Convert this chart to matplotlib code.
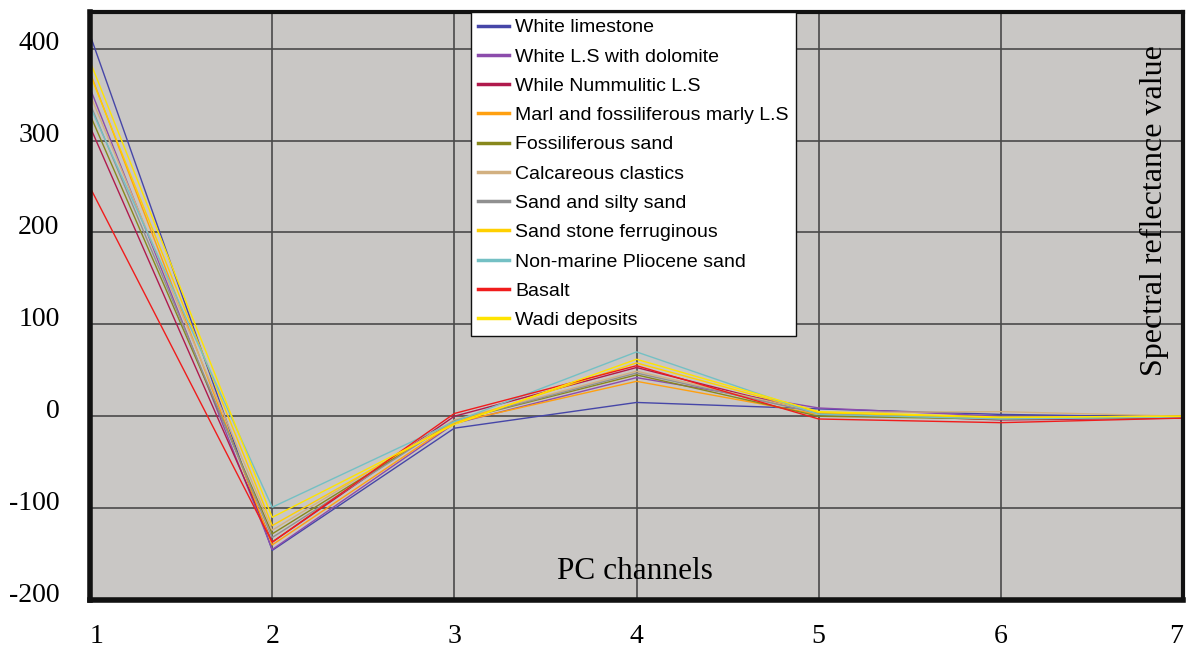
import matplotlib.pyplot as plt
import matplotlib.transforms as mtransforms

plt.rcParams["axes.unicode_minus"] = False

channels = [1, 2, 3, 4, 5, 6, 7]

names = ["White limestone", "White L.S with dolomite", "While Nummulitic L.S",
         "Marl and fossiliferous marly L.S", "Fossiliferous sand", "Calcareous clastics",
         "Sand and silty sand", "Sand stone ferruginous", "Non-marine Pliocene sand",
         "Basalt", "Wadi deposits"]

white_limestone = [415, -146, -13, 15, 8, 2, -1]
white_ls_dolomite = [357, -145, -8, 42, 9, 0, -1]
nummulitic_ls = [315, -137, 0, 53, 3, -4, -2]
marl = [374, -140, -7, 38, 2, -2, 0]
fossil_sand = [328, -128, -5, 45, 0, -3, -1]
calc_clastics = [350, -124, -4, 49, 4, 5, 0]
silty_sand = [340, -132, -5, 47, 3, -1, -1]
ferruginous = [372, -119, -7, 58, 4, -2, 0]
pliocene_sand = [337, -99, -6, 70, 2, -3, -1]
basalt = [249, -137, 3, 55, -3, -7, -2]
wadi = [386, -110, -9, 62, 5, -1, 0]

series = [white_limestone, white_ls_dolomite, nummulitic_ls, marl, fossil_sand,
          calc_clastics, silty_sand, ferruginous, pliocene_sand, basalt, wadi]
colors = ["#4646a8", "#8c4cac", "#b01a4c", "#ffa010", "#88881c", "#d2b080",
          "#909090", "#ffd000", "#74c0c4", "#f01c1c", "#ffe400"]

yticks = [-200, -100, 0, 100, 200, 300, 400]

fig = plt.figure(figsize=(11.88, 6.47), dpi=100)
ax = fig.add_axes([0.0758, 0.0726, 0.92, 0.909])
ax.set_facecolor("#c9c7c5")

for vals, c, n in zip(series, colors, names):
    ax.plot(channels, vals, color=c, linewidth=1.0, label=n)

ax.set_xlim(1, 7)
ax.set_ylim(-200, 440)
ax.set_xticks(channels)
ax.set_yticks(yticks)
ax.grid(True, color="#4a4a4a", linewidth=1.2)
ax.set_axisbelow(True)

serif = "Liberation Serif"
ax.tick_params(length=0)
ax.tick_params(axis="x", pad=17)
ax.tick_params(axis="y", pad=22)
for lab in ax.get_xticklabels() + ax.get_yticklabels():
    lab.set_fontfamily(serif)
    lab.set_fontsize(20)
off = mtransforms.ScaledTranslation(0, 8 / 100, fig.dpi_scale_trans)
for lab in ax.get_yticklabels():
    lab.set_transform(lab.get_transform() + off)
xlabs = ax.get_xticklabels()
xlabs[0].set_ha("left")
xlabs[-1].set_ha("right")

for side, lw in [("left", 4), ("bottom", 4), ("top", 3), ("right", 3)]:
    ax.spines[side].set_linewidth(lw)
    ax.spines[side].set_color("#111111")

ax.text(0.4986, 0.048, "PC channels", transform=ax.transAxes, ha="center",
        va="center", fontsize=22.5, family=serif)
ax.text(0.974, 0.663, "Spectral reflectance value", transform=ax.transAxes,
        ha="center", va="center", rotation=90, fontsize=23, family=serif)

leg = ax.legend(loc="upper left", bbox_to_anchor=(0.349, 1.0),
                prop={"family": "Liberation Sans", "size": 14},
                frameon=True, fancybox=False, framealpha=1, edgecolor="#111111",
                labelspacing=0.6, handlelength=1.6, handletextpad=0.3,
                borderpad=0.35, borderaxespad=0)
leg.get_frame().set_linewidth(1.0)
for h in leg.get_lines():
    h.set_linewidth(2.5)

fig.savefig("out.png", dpi=100)
